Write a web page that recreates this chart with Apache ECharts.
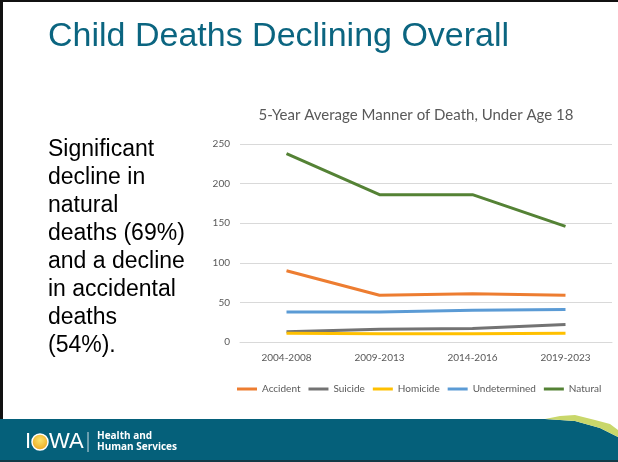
<!DOCTYPE html>
<html>
<head>
<meta charset="utf-8">
<script src="https://cdn.jsdelivr.net/npm/echarts@6/dist/echarts.min.js"></script>
<style>
  html, body { margin: 0; padding: 0; background: #fff; }
  #chart { width: 618px; height: 462px; }
</style>
</head>
<body>
<div id="chart"></div>
<script>
// periods on the x axis
const periods = ['2004-2008', '2009-2013', '2014-2016', '2019-2023']
// 5-year average deaths per manner
const accident = [90, 59, 61, 59]
const suicide = [13, 16, 17, 22]
const homicide = [11, 10.5, 10.5, 11]
const undetermined = [38, 38, 40, 41]
const natural = [238, 186, 186, 146]
const yTicks = [0, 50, 100, 150, 200, 250]

const seriesDefs = [
    { name: 'Accident', data: accident, color: '#ed7d31' },
    { name: 'Suicide', data: suicide, color: '#737373' },
    { name: 'Homicide', data: homicide, color: '#ffc000' },
    { name: 'Undetermined', data: undetermined, color: '#5b9bd5' },
    { name: 'Natural', data: natural, color: '#548235' }
]

const chartFont = 'Lato'
const teal = '#05607a'

var myChart = echarts.init(document.getElementById('chart'))
myChart.setOption({
    animation: false,
    textStyle: { fontFamily: chartFont, color: '#595959' },
    grid: { left: 240, right: 6, top: 144, bottom: 120 },
    legend: {
        left: 232,
        top: 379,
        width: 386,
        icon: 'rect',
        itemWidth: 20,
        itemHeight: 3,
        itemGap: 8,
        textStyle: { fontSize: 10, color: '#595959', fontFamily: chartFont },
        data: seriesDefs.map(s => s.name)
    },
    xAxis: {
        type: 'category',
        data: periods,
        axisTick: { show: false },
        axisLine: { lineStyle: { color: '#d9d9d9', width: 1 } },
        axisLabel: { fontSize: 10, color: '#595959', margin: 11 }
    },
    yAxis: {
        type: 'value',
        min: yTicks[0],
        max: yTicks[yTicks.length - 1],
        interval: 50,
        axisLine: { show: false },
        axisTick: { show: false },
        splitLine: { lineStyle: { color: '#d9d9d9', width: 1 } },
        axisLabel: { fontSize: 10, color: '#595959', margin: 10 }
    },
    series: seriesDefs.map(s => ({
        name: s.name,
        type: 'line',
        data: s.data,
        showSymbol: false,
        symbol: 'none',
        itemStyle: { color: s.color },
        lineStyle: { color: s.color, width: 3 }
    })),
    graphic: [
        // slide frame
        { type: 'rect', left: 0, top: 0, shape: { width: 618, height: 2 }, style: { fill: '#111' } },
        { type: 'rect', left: 0, top: 0, shape: { width: 3, height: 462 }, style: { fill: '#111' } },
        // slide title
        {
            type: 'text', left: 48, top: 20,
            style: { text: 'Child Deaths Declining Overall', fill: '#0b6580', font: '34px "Liberation Sans", Arial, sans-serif' }
        },
        // chart title
        {
            type: 'text', x: 416, y: 115,
            style: {
                text: '5-Year Average Manner of Death, Under Age 18', fill: '#595959',
                font: '15px Lato', align: 'center', verticalAlign: 'middle'
            }
        },
        // side note
        {
            type: 'text', left: 48, top: 136,
            style: {
                text: 'Significant\ndecline in\nnatural\ndeaths (69%)\nand a decline\nin accidental\ndeaths\n(54%).',
                fill: '#000', font: '23px "Liberation Sans", Arial, sans-serif', lineHeight: 28
            }
        },
        // footer band
        {
            type: 'polygon',
            shape: { points: [[0, 419], [545, 419], [575, 421], [600, 428], [618, 437], [618, 462], [0, 462]] },
            style: { fill: teal }
        },
        {
            type: 'polygon',
            shape: { points: [[545, 419], [560, 416], [575, 415], [595, 420], [610, 424], [618, 430], [618, 437], [600, 428], [575, 421]] },
            style: { fill: '#c9d76a' }
        },
        { type: 'rect', left: 0, top: 460, shape: { width: 618, height: 2 }, style: { fill: '#123a47' } },
        // logo
        {
            type: 'text', x: 25, y: 442,
            style: { text: 'I', fill: '#fff', font: '22px "Liberation Sans", Arial, sans-serif', verticalAlign: 'middle' }
        },
        {
            type: 'circle', shape: { cx: 40, cy: 442, r: 8 },
            style: {
                fill: new echarts.graphic.RadialGradient(0.5, 0.4, 0.6, [
                    { offset: 0, color: '#fbe36a' },
                    { offset: 1, color: '#eda51e' }
                ]),
                stroke: '#fff', lineWidth: 1.5
            }
        },
        {
            type: 'text', x: 49, y: 442,
            style: { text: 'WA', fill: '#fff', font: '22px "Liberation Sans", Arial, sans-serif', verticalAlign: 'middle' }
        },
        { type: 'line', shape: { x1: 88, y1: 432, x2: 88, y2: 452 }, style: { stroke: '#cfdde3', lineWidth: 1 } },
        {
            type: 'text', x: 97, y: 442,
            style: {
                text: 'Health and\nHuman Services', fill: '#fff', lineHeight: 11,
                font: 'bold 10px "Open Sans", sans-serif', verticalAlign: 'middle'
            }
        }
    ]
})
</script>
</body>
</html>
